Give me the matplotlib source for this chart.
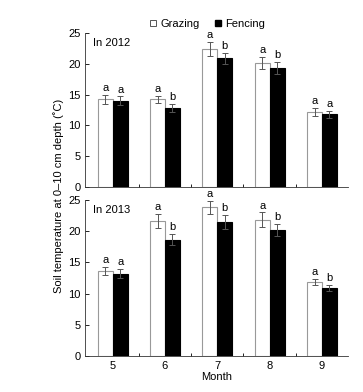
"""Soil temperature at 0-10 cm depth under grazing vs fencing, 2012 and 2013."""
import numpy as np
import matplotlib
matplotlib.use("Agg")
import matplotlib.pyplot as plt
from matplotlib.lines import Line2D

plt.rcParams["font.family"] = ["Liberation Sans", "DejaVu Sans"]
plt.rcParams["font.size"] = 8

months = ["5", "6", "7", "8", "9"]

grazing_2012 = [14.2, 14.2, 22.4, 20.1, 12.2]
grazing_2012_err = [0.8, 0.6, 1.1, 1.0, 0.6]
fencing_2012 = [14.0, 12.8, 20.9, 19.3, 11.8]
fencing_2012_err = [0.7, 0.7, 0.9, 1.0, 0.6]
letters_g_2012 = ["a", "a", "a", "a", "a"]
letters_f_2012 = ["a", "b", "b", "b", "a"]

grazing_2013 = [13.6, 21.6, 23.8, 21.8, 11.9]
grazing_2013_err = [0.7, 1.1, 1.1, 1.2, 0.5]
fencing_2013 = [13.2, 18.6, 21.5, 20.2, 10.9]
fencing_2013_err = [0.7, 0.9, 1.1, 1.0, 0.5]
letters_g_2013 = ["a", "a", "a", "a", "a"]
letters_f_2013 = ["a", "b", "b", "b", "b"]

panels = [
    ("In 2012", grazing_2012, grazing_2012_err, fencing_2012, fencing_2012_err,
     letters_g_2012, letters_f_2012),
    ("In 2013", grazing_2013, grazing_2013_err, fencing_2013, fencing_2013_err,
     letters_g_2013, letters_f_2013),
]

fig = plt.figure(figsize=(3.63, 3.92), dpi=100)
ax_top = fig.add_axes([0.234, 0.523, 0.725, 0.393])
ax_bot = fig.add_axes([0.234, 0.092, 0.725, 0.398])

x = np.arange(len(months))
w = 0.285

for ax, (title, g, ge, f, fe, lg, lf) in zip([ax_top, ax_bot], panels):
    ax.bar(x - w / 2, g, w, color="white", edgecolor="#999999", linewidth=0.8)
    ax.bar(x + w / 2, f, w, color="black", edgecolor="black", linewidth=0.8)
    ax.errorbar(x - w / 2, g, yerr=ge, fmt="none", ecolor="#555555",
                elinewidth=0.7, capsize=2, capthick=0.7)
    ax.errorbar(x + w / 2, f, yerr=fe, fmt="none", ecolor="#555555",
                elinewidth=0.7, capsize=2, capthick=0.7)
    for i in range(len(months)):
        ax.text(x[i] - w / 2, g[i] + ge[i] + 0.3, lg[i], ha="center", va="bottom", fontsize=8)
        ax.text(x[i] + w / 2, f[i] + fe[i] + 0.3, lf[i], ha="center", va="bottom", fontsize=8)
    ax.set_xlim(-0.53, 4.5)
    ax.set_ylim(0, 25)
    ax.set_yticks([0, 5, 10, 15, 20, 25])
    ax.set_xticks(x[:-1] + 0.5, minor=True)
    ax.tick_params(axis="y", direction="in", length=3, width=0.6, pad=3)
    ax.tick_params(axis="x", which="minor", direction="in", length=2, width=0.6)
    ax.tick_params(axis="x", which="major", length=0)
    ax.spines["top"].set_visible(False)
    ax.spines["right"].set_visible(False)
    for s in ["left", "bottom"]:
        ax.spines[s].set_linewidth(0.6)
        ax.spines[s].set_color("#333333")
    ax.text(0.03, 0.97, title, transform=ax.transAxes, ha="left", va="top", fontsize=8)

ax_top.set_xticks(x)
ax_top.set_xticklabels([])
ax_bot.set_xticks(x)
ax_bot.set_xticklabels(months)
ax_bot.set_xlabel("Month", labelpad=1)

fig.text(0.16, 0.50, "Soil temperature at 0\u201310 cm depth (\u02daC)", rotation=90,
         ha="center", va="center", fontsize=8)

handles = [
    Line2D([], [], marker="s", linestyle="none", markerfacecolor="white",
           markeredgecolor="#555555", markersize=5, markeredgewidth=0.7),
    Line2D([], [], marker="s", linestyle="none", markerfacecolor="black",
           markeredgecolor="black", markersize=5),
]
fig.legend(handles, ["Grazing", "Fencing"], loc="center", bbox_to_anchor=(0.57, 0.94),
           ncol=2, frameon=False, handlelength=0.8, handletextpad=0.3,
           columnspacing=1.2, fontsize=8)

fig.savefig("out.png", dpi=100)
